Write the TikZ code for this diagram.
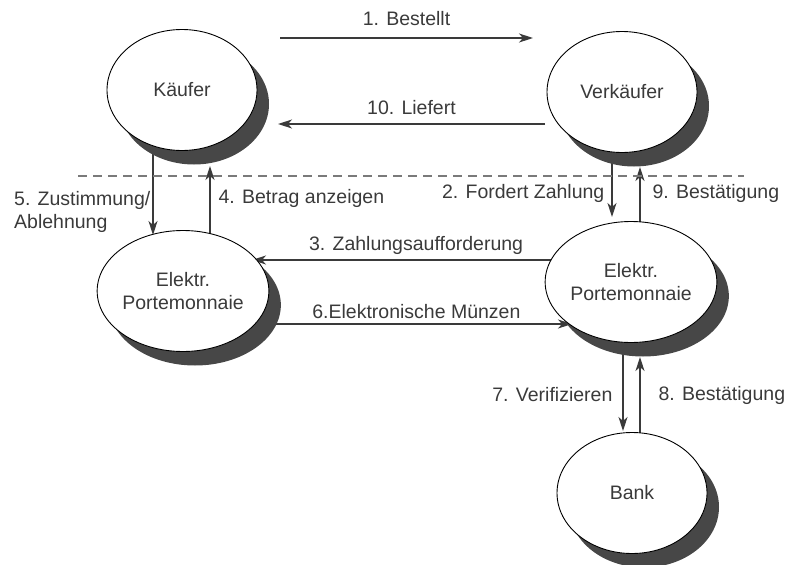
\documentclass[tikz,border=0pt]{standalone}
\usepackage{fontspec}
\setmainfont{Liberation Sans}
\usetikzlibrary{arrows.meta,shadows,calc,shapes.geometric}
\pgfdeclarelayer{background}
\pgfsetlayers{background,main}
\definecolor{ink}{HTML}{3A3A3A}
\definecolor{shade}{HTML}{474747}
\definecolor{rule}{HTML}{7A7A7A}
\begin{document}
\begin{tikzpicture}[x=1pt,y=-1pt,
  font=\fontsize{19.5}{23}\selectfont,
  party/.style={ellipse, draw=black, line width=0.9pt, fill=white,
    minimum width=150pt, minimum height=121pt, inner sep=0pt, align=center,
    text=ink, drop shadow={shadow xshift=12pt, shadow yshift=-14pt, fill=shade, opacity=1}},
  flow/.style={draw=ink, line width=1.3pt, -{Stealth[length=14pt,width=9pt,inset=4pt]}},
  lbl/.style={inner sep=0pt, text=ink, align=left}
]
\useasboundingbox (0,0) rectangle (788,565);

% parties
\node[party] (kaeufer)    at (182,90)  {Käufer};
\node[party] (verkaeufer) at (622,92)  {Verkäufer};
\node[party] (portl)      at (183,291) {Elektr.\\Portemonnaie};
\node[party] (portr)      at (631,282) {Elektr.\\Portemonnaie};
\node[party] (bank)       at (632,493) {Bank};

% boundary between the two trading partners and their wallets
\coordinate (sepL) at (78,176);
\coordinate (sepR) at (744,176);
\draw[rule, line width=1.1pt, dash pattern=on 9pt off 6pt] (sepL) -- (sepR);

% order and delivery
\coordinate (orderA) at (280,38);
\coordinate (orderB) at (533,38);
\coordinate (delivA) at (545,124);
\coordinate (delivB) at (278,124);

\begin{pgfonlayer}{background}
\draw[flow] (orderA) -- node[lbl, above=12pt] (l1) {1. Bestellt} (orderB);
\draw[flow] (delivA) -- node[lbl, above=9pt] (l10) {10. Liefert} (delivB);

\draw[flow] ($(verkaeufer.center)+(-10,0)$) -- ($(portr.center)+(-19,-65)$)
  node[lbl, pos=0.815, anchor=east, xshift=-7pt] (l2) {2. Fordert Zahlung};
\draw[flow] ($(portr.center)+(0,-22)$) -- ($(portl.center)+(69,-31)$)
  node[lbl, pos=0.567, above=5pt] (l3) {3. Zahlungsaufforderung};
\draw[flow] ($(portl.center)+(27,0)$) -- ($(kaeufer.center)+(28,76)$)
  node[lbl, pos=0.738, anchor=west, xshift=8pt] (l4) {4. Betrag anzeigen};
\draw[flow] ($(kaeufer.center)+(-29,0)$) -- ($(portl.center)+(-30,-56)$)
  node[lbl, pos=0.84, anchor=east, xshift=-2pt] (l5) {5. Zustimmung/\\Ablehnung};
\draw[flow] ($(portl.center)+(0,33)$) -- ($(portr.center)+(-59,42)$)
  node[lbl, pos=0.6, above=5pt] (l6) {6.Elektronische Münzen};
\draw[flow] ($(portr.center)+(-8,0)$) -- ($(bank.center)+(-9,-62)$)
  node[lbl, pos=0.758, anchor=east, xshift=-10pt] (l7) {7. Verifizieren};
\draw[flow] ($(bank.center)+(8,0)$) -- ($(portr.center)+(9,75)$)
  node[lbl, pos=0.715, anchor=west, xshift=18pt] (l8) {8. Bestätigung};
\draw[flow] ($(portr.center)+(9,0)$) -- ($(verkaeufer.center)+(18,75)$)
  node[lbl, pos=0.774, anchor=west, xshift=12pt] (l9) {9. Bestätigung};
\end{pgfonlayer}
\end{tikzpicture}
\end{document}
